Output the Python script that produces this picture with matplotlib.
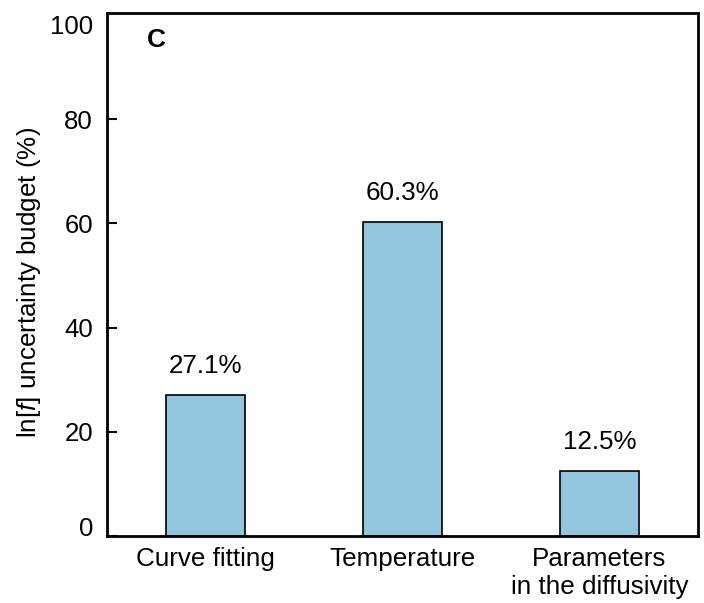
import numpy as np
import matplotlib.pyplot as plt

categories = ["Curve fitting", "Temperature", "Parameters\nin the diffusivity"]
budget = [27.1, 60.3, 12.5]
value_labels = ["27.1%", "60.3%", "12.5%"]
yticks = [0, 20, 40, 60, 80, 100]

plt.rcParams["font.family"] = "Liberation Sans"
plt.rcParams["mathtext.fontset"] = "custom"
plt.rcParams["mathtext.rm"] = "Liberation Sans"
plt.rcParams["mathtext.it"] = "Liberation Sans:italic"


def plot():
	fig = plt.figure(figsize=(7.04, 6.03), dpi=100)
	ax = fig.add_axes([0.152, 0.111, 0.8395, 0.867])
	x = np.arange(len(categories))
	bars = ax.bar(x, budget, width=0.4, color="#92c5de", edgecolor="black", linewidth=1.2, zorder=2)
	for b, lab in zip(bars, value_labels):
		ax.annotate(lab, (b.get_x() + b.get_width() / 2, b.get_height()),
			xytext=(0, 12), textcoords="offset points", ha="center", va="bottom", fontsize=18.7)
	ax.set_xlim(-0.5, 2.5)
	ax.set_ylim(0, 100.3)
	ax.set_yticks(yticks)
	ax.set_xticks(x)
	ax.set_xticklabels(categories, fontsize=18.7, linespacing=1.2)
	ax.tick_params(axis="y", direction="in", length=7, width=1.5, labelsize=18.5, pad=10)
	ax.tick_params(axis="x", direction="in", length=7, width=1.5, pad=8)
	# first and last y labels sit inside the frame
	ylabs = ax.get_yticklabels()
	ylabs[0].set_va("baseline")
	ylabs[-1].set_va("top")
	ax.yaxis.get_major_ticks()[-1].tick1line.set_visible(False)
	for s in ax.spines.values():
		s.set_linewidth(2)
	ax.set_ylabel(r"ln[$\it{f}$] uncertainty budget (%)", fontsize=18.7)
	ax.yaxis.set_label_coords(-0.108, 0.485)
	ax.text(0.068, 0.948, "C", transform=ax.transAxes, fontsize=19, fontweight="bold", va="center")
	fig.savefig("out.png", dpi=100)


def main():
	plot()


if __name__ == '__main__':
	main()
